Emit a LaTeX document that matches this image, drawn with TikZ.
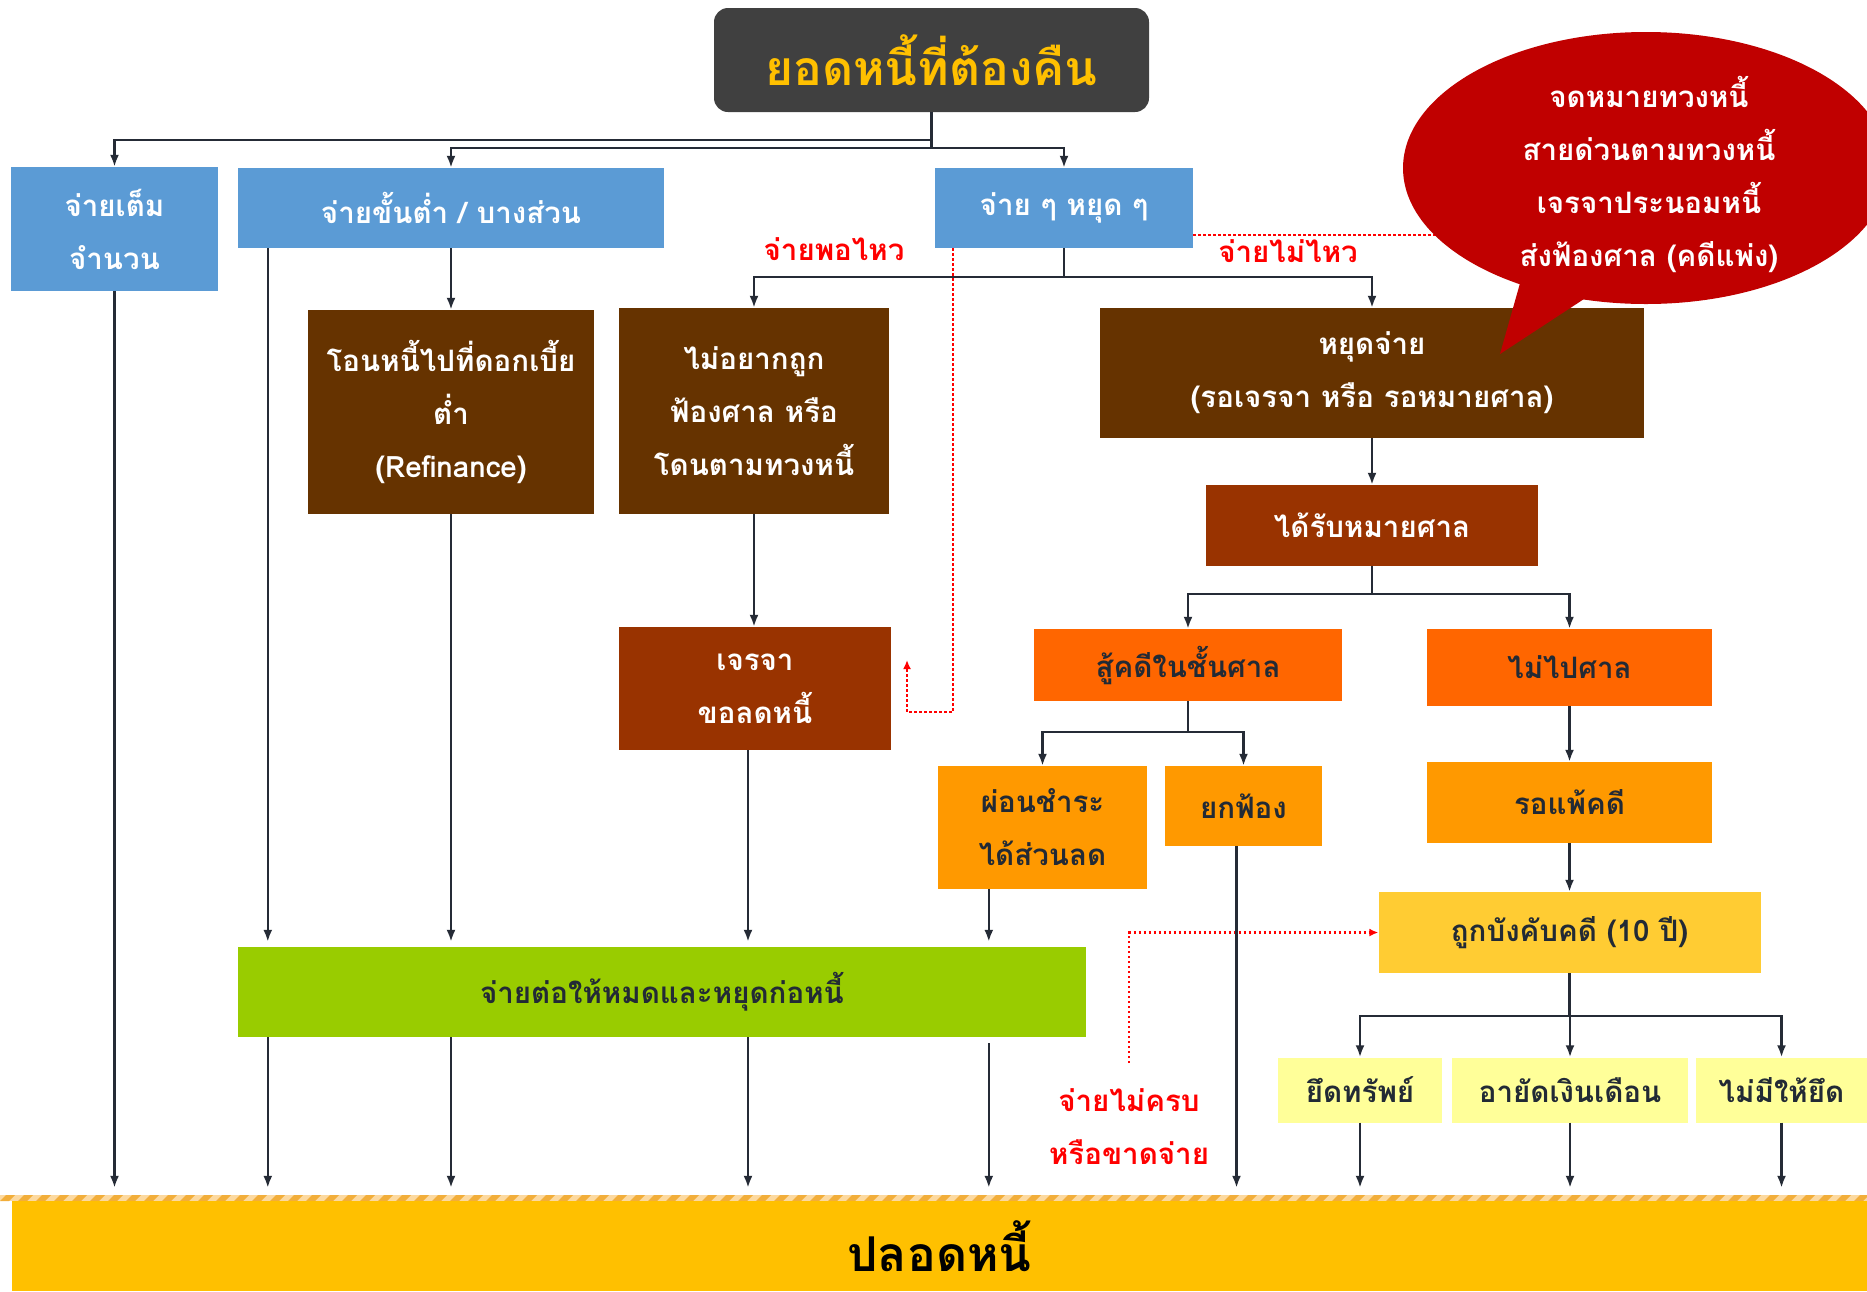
\documentclass[tikz,border=0pt]{standalone}
\usepackage{fontspec}
\newfontfamily\thaifont[Script=Thai]{Loma}
\usetikzlibrary{arrows.meta,shapes.geometric,calc}
\definecolor{cTitle}{HTML}{404040}
\definecolor{cGold}{HTML}{FFC000}
\definecolor{cBlue}{HTML}{5B9BD5}
\definecolor{cBrown}{HTML}{663300}
\definecolor{cRust}{HTML}{993300}
\definecolor{cOrange}{HTML}{FF6600}
\definecolor{cLOrange}{HTML}{FF9900}
\definecolor{cYel}{HTML}{FFCC33}
\definecolor{cPale}{HTML}{FFFF99}
\definecolor{cGreen}{HTML}{99CC00}
\definecolor{cBand}{HTML}{FFC000}
\definecolor{cRed}{HTML}{C00000}
\definecolor{linec}{HTML}{252B36}
\definecolor{txtdark}{HTML}{222A35}
\definecolor{hatchL}{HTML}{FCD9A0}
\definecolor{hatchD}{HTML}{F2AE3A}
\begin{document}
\begin{tikzpicture}[x=1pt,y=-1pt,
  base/.style={rectangle, inner sep=0pt, align=center, font={\thaifont\bfseries\fontsize{29.5}{53}\selectfont}},
  wbox/.style={base, text=white},
  dbox/.style={base, text=txtdark},
  conn/.style={draw=linec, line width=2.3pt},
  arr/.style={conn, -{Latex[length=12pt,width=9pt]}},
  reddot/.style={draw=red, line width=2.5pt, dash pattern=on 2.5pt off 2.5pt},
  redtip/.style={-{Latex[length=9pt,width=8pt]}},
  redlab/.style={inner sep=0pt, align=center, text=red, font={\thaifont\bfseries\fontsize{29.5}{53}\selectfont}},
  toband/.style={arr, shorten >=13pt}
]
\fill[white] (0,0) rectangle (1867,1291);
\useasboundingbox (0,0) rectangle (1867,1291);

% ---- bottom band
\begin{scope}
\clip (0,1195) rectangle (1867,1201);
\fill[hatchL] (0,1195) rectangle (1867,1201);
\foreach \x in {-18,0,...,1880} {
  \fill[hatchD] (\x,1201) -- (\x+9,1201) -- (\x+15,1195) -- (\x+6,1195) -- cycle;
}
\end{scope}
\node[base, fill=cBand, text=black, minimum width=1855pt, minimum height=90pt,
  font={\thaifont\bfseries\fontsize{48}{56}\selectfont}] (band) at (939.5,1246) {ปลอดหนี้};

% ---- nodes
\node[base, fill=cTitle, rounded corners=14pt, minimum width=435pt, minimum height=104pt, text=cGold,
  font={\thaifont\bfseries\fontsize{48}{56}\selectfont}] (top) at (931.5,60) {ยอดหนี้ที่ต้องคืน};

\node[wbox, fill=cBlue, minimum width=207pt, minimum height=124pt] (b1) at (114.5,229) {จ่ายเต็ม\\จำนวน};
\node[wbox, fill=cBlue, minimum width=426pt, minimum height=80pt] (b2) at (451,208) {จ่ายขั้นต่ำ / บางส่วน};
\node[wbox, fill=cBlue, minimum width=258pt, minimum height=80pt] (b3) at (1064,208) {จ่าย ๆ หยุด ๆ};

\node[wbox, fill=cBrown, minimum width=286pt, minimum height=204pt] (c1) at (451,412) {โอนหนี้ไปที่ดอกเบี้ย\\ต่ำ\\(Refinance)};
\node[wbox, fill=cBrown, minimum width=270pt, minimum height=206pt] (c2) at (754,411) {ไม่อยากถูก\\ฟ้องศาล หรือ\\โดนตามทวงหนี้};
\node[wbox, fill=cBrown, minimum width=544pt, minimum height=130pt] (c3) at (1372,373) {หยุดจ่าย\\(รอเจรจา หรือ รอหมายศาล)};

\node[wbox, fill=cRust, minimum width=272pt, minimum height=123pt] (d1) at (755,688.5) {เจรจา\\ขอลดหนี้};
\node[wbox, fill=cRust, minimum width=332pt, minimum height=81pt] (d2) at (1372,525.5) {ได้รับหมายศาล};

\node[dbox, fill=cOrange, minimum width=308pt, minimum height=72pt] (e1) at (1188,665) {สู้คดีในชั้นศาล};
\node[dbox, fill=cOrange, minimum width=285pt, minimum height=77pt] (e2) at (1569.5,667.5) {ไม่ไปศาล};

\node[dbox, fill=cLOrange, minimum width=209pt, minimum height=123pt] (f1) at (1042.5,827.5) {ผ่อนชำระ\\ได้ส่วนลด};
\node[dbox, fill=cLOrange, minimum width=157pt, minimum height=80pt] (f2) at (1243.5,806) {ยกฟ้อง};
\node[dbox, fill=cLOrange, minimum width=285pt, minimum height=81pt] (f3) at (1569.5,802.5) {รอแพ้คดี};

\node[dbox, fill=cYel, minimum width=382pt, minimum height=81pt] (g1) at (1569.5,932.5) {ถูกบังคับคดี (10 ปี)};

\node[dbox, fill=cPale, minimum width=164pt, minimum height=65pt] (h1) at (1360,1090) {ยึดทรัพย์};
\node[dbox, fill=cPale, minimum width=236pt, minimum height=65pt] (h2) at (1570,1090) {อายัดเงินเดือน};
\node[dbox, fill=cPale, minimum width=171pt, minimum height=65pt] (h3) at (1781.5,1090) {ไม่มีให้ยึด};

\node[dbox, fill=cGreen, minimum width=848pt, minimum height=90pt] (green) at (662,992) {จ่ายต่อให้หมดและหยุดก่อหนี้};

% ---- red labels
\node[redlab] (l1) at (834,249) {จ่ายพอไหว};
\node[redlab] (l2) at (1288,251) {จ่ายไม่ไหว};
\node[redlab] (l3) at (1129,1127) {จ่ายไม่ครบ\\หรือขาดจ่าย};

% ---- red dotted links
\coordinate (k0) at (1600,235);
\draw[reddot] ([yshift=-27pt]b3.east) -- (k0);
\coordinate (k1) at (907,660);
\draw[reddot, redtip] ([xshift=18pt]b3.south west) |- ([yshift=-52pt]k1) -- (k1);
\coordinate (k2) at (1129,1063);
\draw[reddot, redtip] (k2) |- (g1.west);

% ---- callout
\coordinate (tA) at (1526,262);
\coordinate (tB) at (1613,280);
\coordinate (tC) at (1500,354);
\fill[cRed] (tA) -- (tC) -- (tB) -- cycle;
\node[ellipse, fill=cRed, minimum width=486pt, minimum height=272pt, inner sep=0pt] (callout) at (1646,168) {};
\node[wbox] (ctext) at (1649,174) {จดหมายทวงหนี้\\สายด่วนตามทวงหนี้\\เจรจาประนอมหนี้\\ส่งฟ้องศาล (คดีแพ่ง)};

% ---- connectors
\draw[arr] (top.south) -- ++(0,28) -| (b1.north);
\draw[conn] (top.south) -- ++(0,36);
\draw[arr] ([yshift=-36pt]top.south) -| (b2.north);
\draw[arr] ([yshift=-36pt]top.south) -| (b3.north);

\draw[arr] (b2.south) -- (c1.north);
\coordinate (xb2) at ([xshift=30pt]b2.south west);
\draw[arr, shorten >=5pt] (xb2) -- (xb2 |- green.north);

\draw[arr] (b3.south) -- ++(0,29) -| (c2.north);
\draw[arr] (b3.south) -- ++(0,29) -| (c3.north);

\draw[arr, shorten >=5pt] (c1.south) -- (c1.south |- green.north);
\draw[arr] (c2.south) -- (c2.south |- d1.north);
\coordinate (xd1) at ([xshift=-7pt]d1.south);
\draw[arr, shorten >=5pt] (xd1) -- (xd1 |- green.north);
\coordinate (xf1) at ([xshift=51pt]f1.south west);
\draw[arr, shorten >=5pt] (xf1) -- (xf1 |- green.north);

\draw[arr] (c3.south) -- (d2.north);
\draw[arr] (d2.south) -- ++(0,28) -| (e1.north);
\draw[arr] (d2.south) -- ++(0,28) -| (e2.north);
\draw[arr] (e1.south) -- ++(0,31) -| (f1.north);
\draw[arr] (e1.south) -- ++(0,31) -| (f2.north);
\draw[arr] (e2.south) -- (f3.north);
\draw[arr] (f3.south) -- (g1.north);
\draw[arr] (g1.south) -- ++(0,43) -| (h1.north);
\draw[arr] (g1.south) -- ++(0,43) -| (h2.north);
\draw[arr] (g1.south) -- ++(0,43) -| (h3.north);

% ---- into the band
\draw[toband] (b1.south) -- (b1.south |- band.north);
\draw[toband] (xb2 |- green.south) -- (xb2 |- band.north);
\draw[toband] (c1.south |- green.south) -- (c1.south |- band.north);
\draw[toband] (xd1 |- green.south) -- (xd1 |- band.north);
\draw[toband] ([yshift=-6pt]xf1 |- green.south) -- (xf1 |- band.north);
\coordinate (xf2) at ([xshift=-7pt]f2.south);
\draw[toband] (xf2) -- (xf2 |- band.north);
\draw[toband] (h1.south) -- (h1.south |- band.north);
\draw[toband] (h2.south) -- (h2.south |- band.north);
\draw[toband] (h3.south) -- (h3.south |- band.north);
\end{tikzpicture}
\end{document}
